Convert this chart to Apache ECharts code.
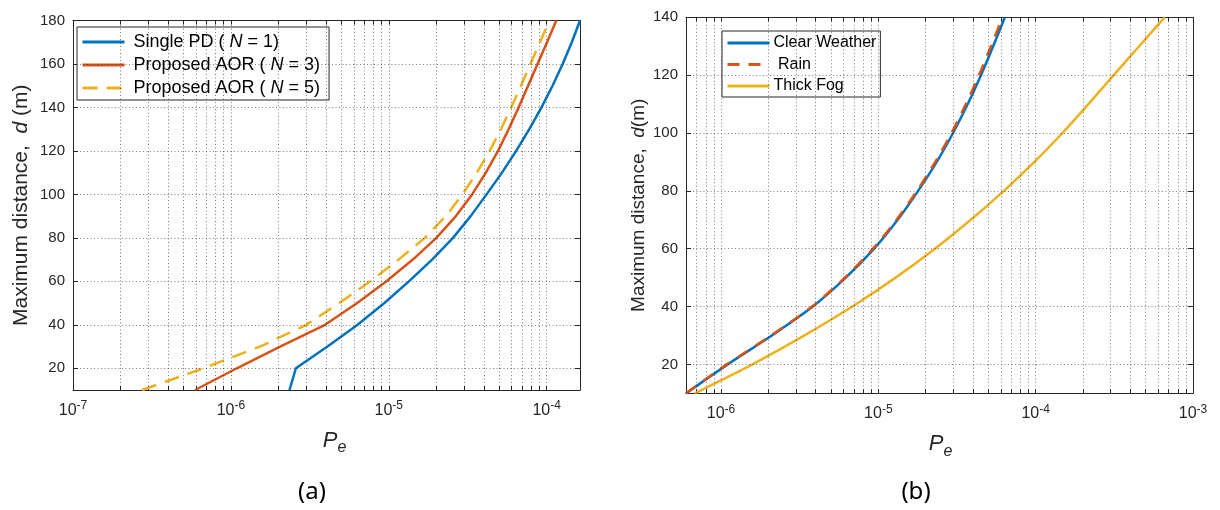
<!DOCTYPE html>
<html><head><meta charset="utf-8">
<script src="https://cdn.jsdelivr.net/npm/echarts@6/dist/echarts.min.js"></script>
<style>html,body{margin:0;padding:0;background:#fff}#c{width:1220px;height:510px}</style>
</head><body><div id="c"></div>
<script>
// ---------- data (a) ----------
const distA = [10,20,30,40,50,60,70,80,90,100,110,120,130,140,150,160,170,180];
const singlePD = [2.35e-6,2.58e-6,4.09e-6,6.34e-6,9.38e-6,1.34e-5,1.88e-5,2.55e-5,3.3e-5,4.16e-5,5.21e-5,6.41e-5,7.76e-5,9.27e-5,1.089e-4,1.262e-4,1.442e-4,1.625e-4];
const aorN3 = [5.94e-7,1.09e-6,2.05e-6,3.95e-6,6.31e-6,9.66e-6,1.42e-5,2.0e-5,2.66e-5,3.37e-5,4.12e-5,4.92e-5,5.74e-5,6.64e-5,7.62e-5,8.75e-5,1.005e-4,1.15e-4];
const aorN5 = [2.74e-7,6.7e-7,1.53e-6,3.0e-6,4.86e-6,7.62e-6,1.153e-5,1.69e-5,2.3e-5,2.93e-5,3.61e-5,4.35e-5,5.13e-5,5.96e-5,6.87e-5,7.89e-5,9.06e-5,1.04e-4];
const xTicksA = [1e-7,1e-6,1e-5,1e-4];
const yTicksA = [20,40,60,80,100,120,140,160,180];
// ---------- data (b) ----------
const distB = [10,20,30,40,50,60,70,80,90,100,110,120,130,140];
const clearWeather = [6.0e-7,1.104e-6,2.104e-6,3.83e-6,6.21e-6,9.4e-6,1.327e-5,1.79e-5,2.35e-5,2.985e-5,3.7e-5,4.49e-5,5.37e-5,6.37e-5];
const rain = [6.0e-7,1.09e-6,2.08e-6,3.79e-6,6.13e-6,9.25e-6,1.305e-5,1.76e-5,2.3e-5,2.92e-5,3.6e-5,4.36e-5,5.2e-5,6.15e-5];
const thickFog = [6.81e-7,1.585e-6,3.39e-6,6.84e-6,1.288e-5,2.29e-5,3.87e-5,6.28e-5,9.82e-5,1.479e-4,2.163e-4,3.133e-4,4.55e-4,6.61e-4];
const xTicksB = [1e-6,1e-5,1e-4,1e-3];
const yTicksB = [20,40,60,80,100,120,140];

const legendA = ['Single PD ( N = 1)','Proposed AOR ( N = 3)','Proposed AOR ( N = 5)'];
const legendB = ['Clear Weather',' Rain','Thick Fog'];

const C_BLUE='#0072BD', C_RED='#D95319', C_YEL='#EDB120';
const AX='#262626', FONT='Liberation Sans';

function minorVals(min,max){
  const out=[];
  for(let k=Math.floor(Math.log10(min));k<=Math.ceil(Math.log10(max));k++){
    for(let m=1;m<=9;m++){const v=m*Math.pow(10,k); if(v>=min*0.9999&&v<=max*1.0001) out.push(v);}
  }
  return out;
}
function pair(xs,ys){return xs.map((x,i)=>[x,ys[i]]);}

const grids=[{left:73,top:20.5,width:507,height:369.5},{left:686,top:17.3,width:507,height:376}];
const xr=[[1e-7,1.625e-4],[5.99e-7,1e-3]];
const yr=[[10,180],[10,140]];
const xt=[xTicksA,xTicksB], yt=[yTicksA,yTicksB];

const supRich={b:{fontSize:16,fontFamily:FONT,color:AX},s:{fontSize:12,fontFamily:FONT,color:AX,padding:[0,0,9,0]}};
function expFmt(v){const e=Math.log10(v);const r=Math.round(e);if(Math.abs(e-r)>1e-6)return '';return '{b|10}{s|'+r+'}';}

const xAxis=[], yAxis=[];
[0,1].forEach(g=>{
  const allX=minorVals(xr[g][0],xr[g][1]);
  ['bottom','top'].forEach(pos=>{
    xAxis.push({type:'log',logBase:10,gridIndex:g,position:pos,min:xr[g][0],max:xr[g][1],
      name: pos==='bottom'?'{p|P}{e|e}':'',nameLocation:'middle',nameGap:35,
      nameTextStyle:{padding:g===0?[0,0,0,16]:[0,0,0,2],rich:{p:{fontSize:22,fontStyle:'italic',fontFamily:FONT,color:AX},e:{fontSize:16,fontStyle:'italic',fontFamily:FONT,color:AX,padding:[15,0,0,0]}}},
      axisLine:{show:true,onZero:false,lineStyle:{color:AX,width:1}},
      axisTick:{show:true,inside:true,length:4,customValues:allX,lineStyle:{color:AX}},
      axisLabel:{show:pos==='bottom',customValues:xt[g],formatter:expFmt,rich:supRich,margin:10,hideOverlap:false},
      splitLine:{show:false},minorTick:{show:false},minorSplitLine:{show:false}});
  });
  ['left','right'].forEach(pos=>{
    yAxis.push({type:'value',gridIndex:g,position:pos,min:yr[g][0],max:yr[g][1],
      name: pos==='left'?(g===0?'{n|Maximum distance,  }{i|d}{n| (m)}':'{n|Maximum distance,  }{i|d}{n|(m)}'):'',
      nameLocation:'middle',nameGap:g===0?41:38,
      nameTextStyle:{rich:{n:{fontSize:g===0?21:19,fontFamily:FONT,color:AX},i:{fontSize:g===0?21:19,fontStyle:'italic',fontFamily:FONT,color:AX}}},
      axisLine:{show:true,onZero:false,lineStyle:{color:AX,width:1}},
      axisTick:{show:true,inside:true,length:5,customValues:yt[g],lineStyle:{color:AX}},
      axisLabel:{show:pos==='left',customValues:yt[g],fontSize:15,fontFamily:FONT,color:AX,margin:8},
      splitLine:{show:false}});
  });
});

function gridSeries(g){
  const xs=minorVals(xr[g][0],xr[g][1]).filter(v=>v>xr[g][0]*1.0001&&v<xr[g][1]*0.9999);
  const ys=yt[g].filter(v=>v<yr[g][1]);
  const y0=yr[g][0], y1=yr[g][1], x0=xr[g][0], x1=xr[g][1];
  return {type:'line',name:'_grid'+g,xAxisIndex:g*2,yAxisIndex:g*2,data:[],z:1,silent:true,
    markLine:{silent:true,symbol:['none','none'],animation:false,label:{show:false},
      lineStyle:{type:[1,2.5],color:'rgba(38,38,38,0.6)',width:1},
      emphasis:{disabled:true},
      data:xs.map(v=>[{coord:[v,y0]},{coord:[v,y1]}]).concat(ys.map(v=>[{coord:[x0,v]},{coord:[x1,v]}]))}};
}
function lineS(name,g,xs,ys,color,dash){
  return {type:'line',name,xAxisIndex:g*2,yAxisIndex:g*2,data:pair(xs,ys),z:3,
    symbol:'none',showSymbol:false,clip:true,smooth:g===1?0.3:false,
    lineStyle:{color,width:2.5,type:dash||'solid'},itemStyle:{color},emphasis:{disabled:true}};
}

const series=[
  gridSeries(0),gridSeries(1),
  lineS(legendA[0],0,singlePD,distA,C_BLUE),
  lineS(legendA[1],0,aorN3,distA,C_RED),
  lineS(legendA[2],0,aorN5,distA,C_YEL,[15,9]),
  lineS(legendB[0],1,clearWeather,distB,C_BLUE),
  lineS(legendB[1],1,rain,distB,C_RED,[12,9]),
  lineS(legendB[2],1,thickFog,distB,C_YEL)
];

function legFmt(name){
  const m=name.match(/^(.*\( )N( = \d\))$/);
  if(m) return '{t|'+m[1]+'}{i|N}{t|'+m[2]+'}';
  return '{t|'+name+'}';
}
const legRich=(fs)=>({t:{fontSize:fs,fontFamily:FONT,color:'#000'},i:{fontSize:fs,fontStyle:'italic',fontFamily:FONT,color:'#000'}});

const option={
  animation:false,
  grid:grids,
  xAxis, yAxis, series,
  legend:[
    {data:legendA,left:77,top:27,orient:'vertical',itemWidth:42,itemHeight:18,itemGap:5,
     borderColor:AX,borderWidth:1,backgroundColor:'#fff',padding:[6,9,3,4],
     itemStyle:{opacity:0,borderWidth:0},lineStyle:{width:3},
     formatter:legFmt,textStyle:{fontSize:18,fontFamily:FONT,color:'#000',padding:[0,0,0,4],rich:legRich(18)},
     selectedMode:false},
    {data:legendB,left:722,top:31,orient:'vertical',itemWidth:42,itemHeight:16,itemGap:5.5,
     borderColor:AX,borderWidth:1,backgroundColor:'#fff',padding:[4,4,3,4],
     itemStyle:{opacity:0,borderWidth:0},lineStyle:{width:3},
     formatter:legFmt,textStyle:{fontSize:16,fontFamily:FONT,color:'#000',padding:[0,0,0,-1],rich:legRich(16)},
     selectedMode:false}
  ],
  graphic:[
    {type:'text',x:312,y:492,style:{text:'(a)',textAlign:'center',textVerticalAlign:'middle',fontSize:24,fontFamily:'Noto Sans',fill:'#000'}},
    {type:'text',x:916,y:492,style:{text:'(b)',textAlign:'center',textVerticalAlign:'middle',fontSize:24,fontFamily:'Noto Sans',fill:'#000'}}
  ]
};
const chart=echarts.init(document.getElementById('c'),null,{renderer:'canvas'});
chart.setOption(option);
</script></body></html>
